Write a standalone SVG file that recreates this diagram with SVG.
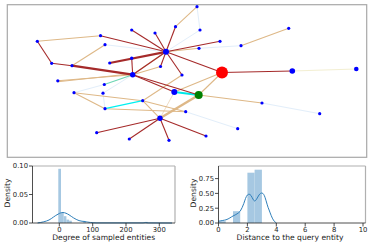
<svg xmlns="http://www.w3.org/2000/svg" width="371" height="247" viewBox="0 0 371 247">
<style>
.r{stroke:#a52a2a;stroke-width:1.1;fill:none}
.rt{stroke:#a52a2a;stroke-width:2.2;fill:none}
.t{stroke:#deb887;stroke-width:1.1;fill:none}
.tt{stroke:#deb887;stroke-width:2.4;fill:none}
.tl{stroke:#efdcc4;stroke-width:1;fill:none}
.c{stroke:#00f0f0;stroke-width:1.2;fill:none}
.ct{stroke:#00e8e8;stroke-width:1.8;fill:none}
.cg{stroke:#6dd6b4;stroke-width:1.2;fill:none}
.lb{stroke:#e2eefa;stroke-width:1;fill:none}
.ly{stroke:#f3efd2;stroke-width:1;fill:none}
.n{fill:#0000ff}
.tk{font-family:"DejaVu Sans",sans-serif;font-size:6.8px;fill:#222}
.lab{font-family:"DejaVu Sans",sans-serif;font-size:7.6px;fill:#222}
.sp{stroke:#222;stroke-width:0.8;fill:none}
.sg{stroke:#b0b0b0;stroke-width:1.2;fill:none}
.bar{fill:#a6c8e2}
.kde{stroke:#2f7fba;stroke-width:1;fill:none}
</style>
<rect x="7.3" y="4.7" width="359.4" height="152.6" fill="#fff" stroke="#a8a8a8" stroke-width="1.2"/>
<g id="edges">
<line class="lb" x1="105" y1="44.7" x2="166" y2="51.8"/>
<line class="lb" x1="200" y1="30" x2="166" y2="51.8"/>
<line class="lb" x1="197" y1="6.7" x2="200" y2="30"/>
<line class="lb" x1="199" y1="48.3" x2="241" y2="45.7"/>
<line class="lb" x1="262" y1="103" x2="319.7" y2="113.7"/>
<line class="lb" x1="185.7" y1="111.7" x2="237.7" y2="128.7"/>
<line class="lb" x1="103" y1="93.2" x2="105" y2="108.7"/>
<line class="lb" x1="103" y1="93.2" x2="132.7" y2="74.7"/>
<line class="lb" x1="74" y1="92.7" x2="104.3" y2="84.5"/>
<line class="ly" x1="292.3" y1="71" x2="356.3" y2="69"/>
<line class="tl" x1="160" y1="118.3" x2="174.3" y2="92"/>
<line class="t" x1="37.3" y1="41.3" x2="100.5" y2="35.7"/>
<line class="t" x1="72" y1="65.7" x2="105" y2="44.7"/>
<line class="t" x1="57.8" y1="80.8" x2="132.7" y2="74.7"/>
<line class="t" x1="57.8" y1="81.8" x2="131.7" y2="73.7"/>
<line class="t" x1="166" y1="51.8" x2="132.7" y2="74.7"/>
<line class="t" x1="132.7" y1="74.7" x2="160.5" y2="66.5"/>
<line class="t" x1="166" y1="51.8" x2="199" y2="48.3"/>
<line class="t" x1="241" y1="45.7" x2="288.7" y2="28.3"/>
<line class="t" x1="197" y1="6.7" x2="175.5" y2="26.7"/>
<line class="t" x1="222" y1="72.5" x2="198.7" y2="95"/>
<line class="t" x1="222" y1="72.5" x2="174.3" y2="92"/>
<line class="t" x1="198.7" y1="95" x2="262" y2="103"/>
<line class="t" x1="142.7" y1="100.7" x2="182" y2="75"/>
<line class="t" x1="142.7" y1="100.7" x2="160" y2="118.3"/>
<line class="t" x1="74" y1="92.7" x2="142.7" y2="100.7"/>
<line class="t" x1="74" y1="92.7" x2="105" y2="108.7"/>
<line class="t" x1="105" y1="108.7" x2="185.7" y2="111.7"/>
<line class="t" x1="142.7" y1="100.7" x2="185.7" y2="111.7"/>
<line class="tt" x1="160" y1="118.3" x2="198.7" y2="95"/>
<line class="cg" x1="104.3" y1="84.5" x2="132.7" y2="74.7"/>
<line class="c" x1="105" y1="108.7" x2="142.7" y2="100.7"/>
<line class="ct" x1="174.3" y1="92" x2="198.7" y2="95"/>
<line class="r" x1="37.3" y1="41.3" x2="51.7" y2="63.3"/>
<line class="r" x1="51.7" y1="63.3" x2="72" y2="65.7"/>
<line class="rt" x1="72" y1="65.7" x2="132.7" y2="74.7"/>
<line class="rt" x1="109.7" y1="63" x2="166" y2="51.8"/>
<line class="r" x1="131.7" y1="58.3" x2="132.7" y2="74.7"/>
<line class="r" x1="100.5" y1="35.7" x2="166" y2="51.8"/>
<line class="r" x1="131.7" y1="30" x2="166" y2="51.8"/>
<line class="r" x1="155" y1="33" x2="166" y2="51.8"/>
<line class="r" x1="175.5" y1="26.7" x2="166" y2="51.8"/>
<line class="r" x1="166" y1="51.8" x2="220" y2="41.3"/>
<line class="r" x1="166" y1="51.8" x2="160.5" y2="66.5"/>
<line class="r" x1="166" y1="51.8" x2="182" y2="75"/>
<line class="r" x1="166" y1="51.8" x2="222" y2="72.5"/>
<line class="r" x1="166" y1="51.8" x2="132.7" y2="74.7"/>
<line class="r" x1="132.7" y1="74.7" x2="174.3" y2="92"/>
<line class="r" x1="132.7" y1="74.7" x2="198.7" y2="95"/>
<line class="r" x1="222" y1="72.5" x2="292.3" y2="71"/>
<line class="r" x1="160" y1="118.3" x2="96.7" y2="132.7"/>
<line class="r" x1="160" y1="118.3" x2="129.3" y2="139"/>
<line class="r" x1="160" y1="118.3" x2="169" y2="140.3"/>
<line class="r" x1="160" y1="118.3" x2="206" y2="136"/>
</g>
<g id="n-A"><circle class="n" cx="37.3" cy="41.3" r="1.6"/></g>
<g id="n-B"><circle class="n" cx="100.5" cy="35.7" r="1.6"/></g>
<g id="n-C"><circle class="n" cx="105" cy="44.7" r="1.6"/></g>
<g id="n-D"><circle class="n" cx="131.7" cy="30" r="1.6"/></g>
<g id="n-E"><circle class="n" cx="155" cy="33" r="1.6"/></g>
<g id="n-F"><circle class="n" cx="175.5" cy="26.7" r="1.6"/></g>
<g id="n-H"><circle class="n" cx="166" cy="51.8" r="3"/></g>
<g id="n-G"><circle class="n" cx="51.7" cy="63.3" r="1.6"/></g>
<g id="n-I"><circle class="n" cx="72" cy="65.7" r="1.6"/></g>
<g id="n-J"><circle class="n" cx="109.7" cy="63" r="1.6"/></g>
<g id="n-K"><circle class="n" cx="131.7" cy="58.3" r="1.7"/></g>
<g id="n-L"><circle class="n" cx="160.5" cy="66.5" r="1.6"/></g>
<g id="n-M"><circle class="n" cx="132.7" cy="74.7" r="2.7"/></g>
<g id="n-N"><circle class="n" cx="182" cy="75" r="1.6"/></g>
<g id="n-O"><circle class="n" cx="57.8" cy="80.8" r="1.6"/></g>
<g id="n-P"><circle class="n" cx="104.3" cy="84.5" r="1.6"/></g>
<g id="n-Q"><circle class="n" cx="174.3" cy="92" r="3"/></g>
<g id="n-R"><circle class="n" cx="74" cy="92.7" r="1.6"/></g>
<g id="n-S"><circle class="n" cx="103" cy="93.2" r="1.6"/></g>
<g id="n-T"><circle class="n" cx="142.7" cy="100.7" r="1.6"/></g>
<g id="n-U"><circle class="n" cx="105" cy="108.7" r="1.6"/></g>
<g id="n-V"><circle class="n" cx="185.7" cy="111.7" r="1.6"/></g>
<g id="n-W"><circle class="n" cx="160" cy="118.3" r="2.7"/></g>
<g id="n-X"><circle class="n" cx="96.7" cy="132.7" r="1.6"/></g>
<g id="n-Y"><circle class="n" cx="129.3" cy="139" r="1.6"/></g>
<g id="n-Z"><circle class="n" cx="169" cy="140.3" r="1.6"/></g>
<g id="n-a"><circle class="n" cx="197" cy="6.7" r="1.6"/></g>
<g id="n-b"><circle class="n" cx="200" cy="30" r="1.6"/></g>
<g id="n-c"><circle class="n" cx="220" cy="41.3" r="1.6"/></g>
<g id="n-d"><circle class="n" cx="199" cy="48.3" r="1.6"/></g>
<g id="n-e"><circle class="n" cx="241" cy="45.7" r="1.6"/></g>
<g id="n-f"><circle class="n" cx="288.7" cy="28.3" r="1.6"/></g>
<g id="n-query"><circle cx="222" cy="72.5" r="6" fill="#ff0000"/></g>
<g id="n-g"><circle class="n" cx="292.3" cy="71" r="2.8"/></g>
<g id="n-h"><circle class="n" cx="356.3" cy="69" r="2.3"/></g>
<g id="n-target"><circle cx="198.7" cy="95" r="4" fill="#008000"/></g>
<g id="n-i"><circle class="n" cx="262" cy="103" r="1.6"/></g>
<g id="n-j"><circle class="n" cx="319.7" cy="113.7" r="1.6"/></g>
<g id="n-k"><circle class="n" cx="237.7" cy="128.7" r="1.6"/></g>
<g id="n-l"><circle class="n" cx="206" cy="136" r="1.6"/></g>

<!-- left histogram -->
<g id="hist-degree">
<rect class="bar" x="58.3" y="168.8" width="2.7" height="54.2"/>
<rect class="bar" x="61" y="212.7" width="2.7" height="10.3"/>
<rect class="bar" x="63.7" y="216.2" width="2.7" height="6.8"/>
<rect class="bar" x="66.4" y="219.6" width="2.7" height="3.4"/>
<rect class="bar" x="69.1" y="220.7" width="2.7" height="2.3"/>
<rect class="bar" x="83.3" y="221.3" width="2.7" height="1.7"/>
<rect class="bar" x="145" y="221.9" width="2.7" height="1.1"/>
<path class="kde" d="M37.6,222.9 C42,222.4 46,221.4 49,220 C52,218.4 55,215.6 58,214.2 C60,213 61.5,212.5 63,212.5 C65,212.6 67,213.6 69,214.8 C72,216.8 75,219.2 79,220.6 C81,221.3 83,221.3 85,221.5 C87,222 90,222.6 96,222.9 L143,222.9 C145,222.6 146,222.5 148,222.9 L172,223"/>
<line class="sg" x1="32.5" y1="166" x2="175" y2="166"/>
<line class="sg" x1="175" y1="166" x2="175" y2="223"/>
<line class="sp" x1="32.5" y1="166" x2="32.5" y2="223"/>
<line class="sp" x1="32.5" y1="223" x2="175" y2="223"/>
<path class="sp" d="M29,166H32.5M29,194.5H32.5M29,223H32.5M59.3,223V226.5M92.7,223V226.5M126,223V226.5M159.3,223V226.5"/>
<text class="tk" x="28" y="168.4" text-anchor="end">0.10</text>
<text class="tk" x="28" y="196.9" text-anchor="end">0.05</text>
<text class="tk" x="28" y="225.4" text-anchor="end">0.00</text>
<text class="tk" x="59.3" y="231.5" text-anchor="middle">0</text>
<text class="tk" x="92.7" y="231.5" text-anchor="middle">100</text>
<text class="tk" x="126" y="231.5" text-anchor="middle">200</text>
<text class="tk" x="159.3" y="231.5" text-anchor="middle">300</text>
<text class="lab" x="103.7" y="240" text-anchor="middle">Degree of sampled entities</text>
<text class="lab" transform="translate(10,193) rotate(-90)" text-anchor="middle">Density</text>
</g>

<!-- right histogram -->
<g id="hist-distance">
<rect class="bar" x="218.5" y="221.2" width="7.2" height="1.8"/>
<rect class="bar" x="233" y="211.2" width="7.2" height="11.8"/>
<rect class="bar" x="247.4" y="172.7" width="7.2" height="50.3"/>
<rect class="bar" x="254.6" y="169.7" width="7.3" height="53.3"/>
<path class="kde" d="M218.5,221.2 C222,220.6 224,220.3 226,219.8 C229,218.8 231,217 233,216 C236,214.6 238.5,213.2 240.2,211.2 C241.8,209 242.5,206.5 243.8,203.5 C245,200 246,196.5 247.4,195 C248.6,193.8 249.8,194 251,195.5 C252.4,197.8 253.6,200.9 254.6,201 C255.8,201.1 257.4,197.6 259,195 C260,193.6 261,192.9 262,193 C263.2,193.2 264.2,195 265,197.3 C266.6,202 267.6,206.8 269.1,210 C270.5,213.8 272,218 273.4,220 C274.6,221.8 275.5,222.5 276.3,222.8"/>
<line class="sg" x1="218.5" y1="166" x2="365.5" y2="166"/>
<line class="sg" x1="365.5" y1="166" x2="365.5" y2="223"/>
<line class="sp" x1="218.5" y1="166" x2="218.5" y2="223"/>
<line class="sp" x1="218.5" y1="223" x2="365.5" y2="223"/>
<path class="sp" d="M215,178.6H218.5M215,193.4H218.5M215,208.2H218.5M215,223H218.5M218.5,223V226.5M247.4,223V226.5M276.3,223V226.5M305.2,223V226.5M334.1,223V226.5M363,223V226.5"/>
<text class="tk" x="214" y="181" text-anchor="end">0.75</text>
<text class="tk" x="214" y="195.8" text-anchor="end">0.50</text>
<text class="tk" x="214" y="210.6" text-anchor="end">0.25</text>
<text class="tk" x="214" y="225.4" text-anchor="end">0.00</text>
<text class="tk" x="218.5" y="231.5" text-anchor="middle">0</text>
<text class="tk" x="247.4" y="231.5" text-anchor="middle">2</text>
<text class="tk" x="276.3" y="231.5" text-anchor="middle">4</text>
<text class="tk" x="305.2" y="231.5" text-anchor="middle">6</text>
<text class="tk" x="334.1" y="231.5" text-anchor="middle">8</text>
<text class="tk" x="363" y="231.5" text-anchor="middle">10</text>
<text class="lab" x="290" y="240" text-anchor="middle">Distance to the query entity</text>
<text class="lab" transform="translate(196,193) rotate(-90)" text-anchor="middle">Density</text>
</g>
</svg>
